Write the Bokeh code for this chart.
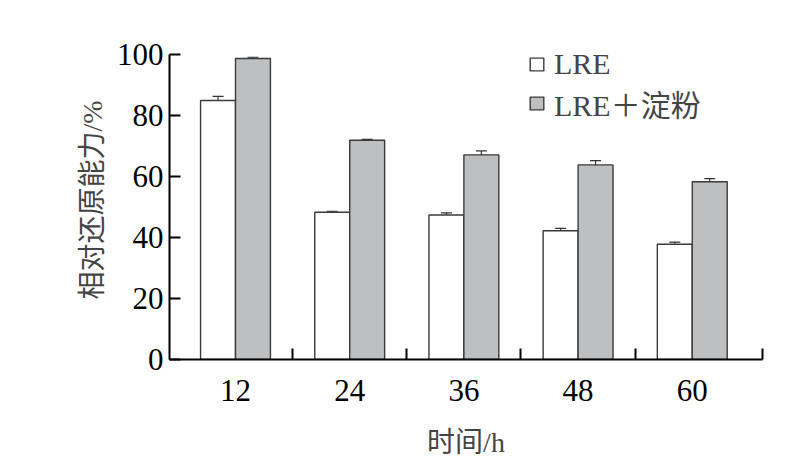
from bokeh.plotting import figure
from bokeh.models import ColumnDataSource, Whisker, TeeHead, FixedTicker, Legend, LegendItem, Range1d
from bokeh.embed import file_html
from bokeh.resources import INLINE

times = ["12", "24", "36", "48", "60"]
lre = [84.9, 48.3, 47.4, 42.2, 37.8]
lre_err = [1.4, 0.3, 0.7, 0.8, 0.7]
starch = [98.7, 71.9, 67.1, 63.8, 58.3]
starch_err = [0.4, 0.3, 1.3, 1.4, 1.0]
y_ticks = [0, 20, 40, 60, 80, 100]

SERIF = "Liberation Serif"
MIXED = "Liberation Serif, Noto Sans CJK SC"
bw = 0.306
idx = list(range(len(times)))
x_start, x_end = -0.578, 4.615
y_top = 104.59  # headroom above 100 for the legend; axis line bounded at 100

src = ColumnDataSource(dict(
    x1=[i - bw / 2 for i in idx], x2=[i + bw / 2 for i in idx],
    lre=lre, starch=starch,
    lre_lo=[v - e for v, e in zip(lre, lre_err)], lre_hi=[v + e for v, e in zip(lre, lre_err)],
    st_lo=[v - e for v, e in zip(starch, starch_err)], st_hi=[v + e for v, e in zip(starch, starch_err)],
))

p = figure(width=785, height=465, output_backend="svg", toolbar_location=None,
           x_range=Range1d(x_start, x_end), y_range=Range1d(0, y_top),
           min_border_left=169, min_border_right=23, min_border_top=40, min_border_bottom=106)
p.outline_line_color = None
p.grid.grid_line_color = None
p.background_fill_color = "white"

r1 = p.vbar(x="x1", top="lre", width=bw, source=src, fill_color="white",
            line_color="#3a3a3a", line_width=1.4)
r2 = p.vbar(x="x2", top="starch", width=bw, source=src, fill_color="#bebfc1",
            line_color="#3a3a3a", line_width=1.4)

for base, lo, hi in (("x1", "lre_lo", "lre_hi"), ("x2", "st_lo", "st_hi")):
    w = Whisker(base=base, lower=lo, upper=hi, source=src, line_color="#333333", line_width=1.2,
                upper_head=TeeHead(size=11, line_color="#333333", line_width=1.2),
                lower_head=TeeHead(size=11, line_color="#333333", line_width=1.2))
    p.add_layout(w)

xa = p.xaxis[0]
xa.ticker = FixedTicker(ticks=idx, minor_ticks=[0.5, 1.5, 2.5, 3.5, x_end])
xa.major_label_overrides = {i: t for i, t in zip(idx, times)}
xa.major_tick_in = 0
xa.major_tick_out = 0
xa.minor_tick_in = 11
xa.minor_tick_out = 0
xa.minor_tick_line_width = 2
xa.minor_tick_line_color = "black"
xa.axis_line_width = 2
xa.major_label_text_font = SERIF
xa.major_label_text_font_size = "31px"
xa.major_label_text_color = "black"
xa.major_label_standoff = 20
xa.axis_label = "时间/h"
xa.axis_label_text_font = MIXED
xa.axis_label_text_font_size = "28px"
xa.axis_label_text_font_style = "normal"
xa.axis_label_standoff = 23

ya = p.yaxis[0]
ya.ticker = FixedTicker(ticks=y_ticks, minor_ticks=[])
ya.bounds = (0, 100)
ya.major_tick_in = 11
ya.major_tick_out = 0
ya.major_tick_line_width = 2
ya.axis_line_width = 2
ya.major_label_text_font = SERIF
ya.major_label_text_font_size = "31px"
ya.major_label_text_color = "black"
ya.major_label_standoff = 6
ya.axis_label = "相对还原能力/%"
ya.axis_label_text_font = MIXED
ya.axis_label_text_font_size = "28px"
ya.axis_label_text_font_style = "normal"
ya.axis_label_standoff = 6

legend = Legend(items=[LegendItem(label="LRE", renderers=[r1]),
                       LegendItem(label="LRE＋淀粉", renderers=[r2])],
                location=(359, 234), padding=0, margin=0, spacing=0,
                glyph_width=17, glyph_height=16, label_standoff=9,
                label_text_font=MIXED, label_text_font_size="30px",
                border_line_color=None, background_fill_alpha=0)
p.add_layout(legend)

open("out.html", "w").write(file_html(p, INLINE))
